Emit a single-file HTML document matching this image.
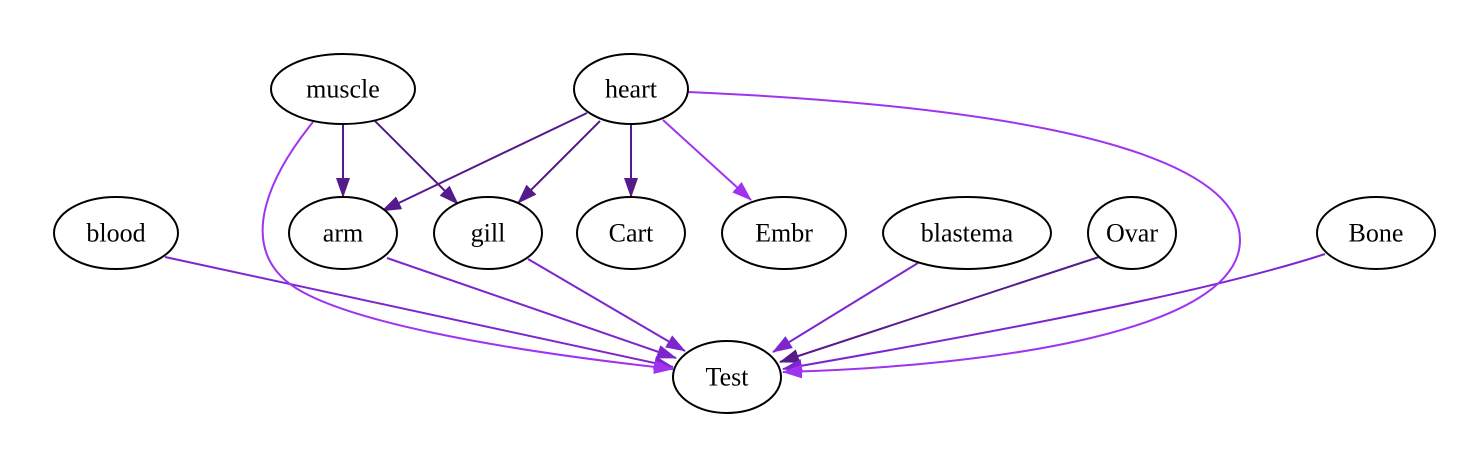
<!DOCTYPE html>
<html><head><style>body{margin:0;background:#fff}svg{display:block}text{font-family:"Liberation Serif",serif;font-size:26px;text-anchor:middle;dominant-baseline:central}</style></head>
<body>
<svg width="1484" height="464" viewBox="0 0 1484 464" xmlns="http://www.w3.org/2000/svg">
<defs>
<marker id="d" markerWidth="20" markerHeight="14" refX="19" refY="7" orient="auto" markerUnits="userSpaceOnUse" viewBox="0 0 20 14"><path d="M0,0L20,7L0,14z" fill="#551a8b"/></marker>
<marker id="m" markerWidth="20" markerHeight="14" refX="19" refY="7" orient="auto" markerUnits="userSpaceOnUse" viewBox="0 0 20 14"><path d="M0,0L20,7L0,14z" fill="#7d26cd"/></marker>
<marker id="b" markerWidth="20" markerHeight="14" refX="19" refY="7" orient="auto" markerUnits="userSpaceOnUse" viewBox="0 0 20 14"><path d="M0,0L20,7L0,14z" fill="#a033f0"/></marker>
</defs>
<g fill="none" stroke-width="2">
<g stroke="#551a8b" marker-end="url(#d)">
<path d="M343,124L343,197"/>
<path d="M375,121L458,204"/>
<path d="M587,113L382,211"/>
<path d="M600,121L518,203"/>
<path d="M631,124L631,197"/>
<path d="M1099,257L780,362"/>
</g>
<g stroke="#7d26cd" marker-end="url(#m)">
<path d="M165,257L673,367"/>
<path d="M387,258L676,358"/>
<path d="M528,259L685,351"/>
<path d="M918,263L773,352"/>
<path d="M1325,254C1200,295 950,340 783,369"/>
</g>
<g stroke="#a033f0" marker-end="url(#b)">
<path d="M663,120L751,200"/>
<path d="M313,122C270,175 240,240 285,280C330,320 500,350 673,369"/>
<path d="M688,92C1100,110 1240,170 1240,240C1240,330 1000,366 783,372"/>
</g>
</g>
<g fill="#fff" stroke="#000" stroke-width="2">
<ellipse cx="343" cy="89" rx="72" ry="35"/>
<ellipse cx="631" cy="89" rx="57" ry="35"/>
<ellipse cx="116" cy="233" rx="62" ry="36"/>
<ellipse cx="343" cy="233" rx="54" ry="36"/>
<ellipse cx="488" cy="233" rx="54" ry="36"/>
<ellipse cx="631" cy="233" rx="54" ry="36"/>
<ellipse cx="784" cy="233" rx="62" ry="36"/>
<ellipse cx="967" cy="233" rx="84" ry="36"/>
<ellipse cx="1132" cy="233" rx="44" ry="36"/>
<ellipse cx="1376" cy="233" rx="59" ry="36"/>
<ellipse cx="727" cy="377" rx="54" ry="36"/>
</g>
<g fill="#000">
<text x="343" y="89">muscle</text>
<text x="631" y="89">heart</text>
<text x="116" y="233">blood</text>
<text x="343" y="233">arm</text>
<text x="488" y="233">gill</text>
<text x="631" y="233">Cart</text>
<text x="784" y="233">Embr</text>
<text x="967" y="233">blastema</text>
<text x="1132" y="233">Ovar</text>
<text x="1376" y="233">Bone</text>
<text x="727" y="377">Test</text>
</g>
</svg>
</body></html>
